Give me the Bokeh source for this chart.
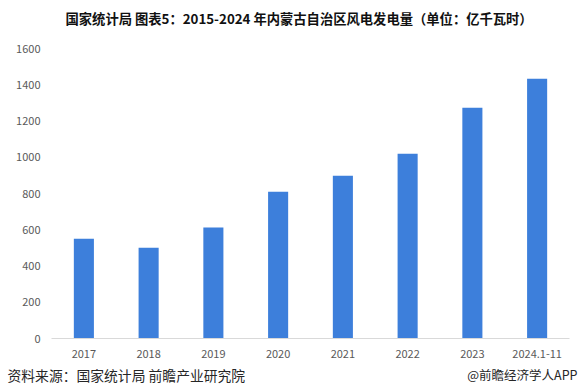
from bokeh.plotting import figure
from bokeh.layouts import column
from bokeh.models import ColumnDataSource, Range1d, FixedTicker
from bokeh.core.properties import value
from bokeh.embed import file_html
from bokeh.resources import INLINE

categories = ["2017", "2018", "2019", "2020", "2021", "2022", "2023", "2024.1-11"]
values = [551, 501, 612, 810, 898, 1019, 1273, 1433]
y_ticks = [0, 200, 400, 600, 800, 1000, 1200, 1400, 1600]

title_text = "国家统计局  图表5：2015-2024 年内蒙古自治区风电发电量（单位：亿千瓦时）"
source_text = "资料来源：国家统计局 前瞻产业研究院"
brand_text = "@前瞻经济学人APP"

W = 581
HEAD_H, MAIN_H, FOOT_H = 36, 328, 22
FONT = "Noto Sans CJK SC"


def text_strip(h):
    f = figure(width=W, height=h, output_backend="svg", toolbar_location=None,
               x_range=Range1d(0, W), y_range=Range1d(0, h),
               x_axis_location=None, y_axis_location=None,
               min_border=0, min_border_left=0, min_border_right=0,
               min_border_top=0, min_border_bottom=0)
    f.xgrid.grid_line_color = None
    f.ygrid.grid_line_color = None
    f.outline_line_color = None
    return f


# header with the title
head = text_strip(HEAD_H)
head.text(x=[65], y=[HEAD_H - 18], text=[title_text], text_align="left",
          text_baseline="middle", text_font=value(FONT), text_font_style="bold",
          text_font_size="13.3px", text_color="#111111")

# main chart
p = figure(x_range=categories, width=W, height=MAIN_H, output_backend="svg",
           toolbar_location=None, min_border_left=51, min_border_right=12,
           min_border_top=12, min_border_bottom=26)
p.y_range = Range1d(0, 1600)

src = ColumnDataSource(dict(cat=categories, val=values))
p.vbar(x="cat", top="val", width=0.31, source=src, color="#3d7fdb", line_color=None)

p.xgrid.grid_line_color = None
p.ygrid.grid_line_color = None
p.outline_line_color = None

p.yaxis.ticker = FixedTicker(ticks=y_ticks)
p.yaxis.axis_line_color = None
p.yaxis.major_tick_line_color = None
p.yaxis.minor_tick_line_color = None
p.yaxis.major_label_text_font = FONT
p.yaxis.major_label_text_font_size = "11px"
p.yaxis.major_label_text_color = "#595959"
p.yaxis.major_label_standoff = 5

p.xaxis.axis_line_color = "#d9d9d9"
p.xaxis.major_tick_line_color = None
p.xaxis.minor_tick_line_color = None
p.xaxis.major_label_text_font = FONT
p.xaxis.major_label_text_font_size = "11px"
p.xaxis.major_label_text_color = "#595959"
p.xaxis.major_label_standoff = 5

# footer
foot = text_strip(FOOT_H)
foot.text(x=[7], y=[FOOT_H - 10], text=[source_text], text_align="left",
          text_baseline="middle", text_font=value(FONT), text_font_size="13.8px",
          text_color="#262626")
foot.text(x=[577], y=[FOOT_H - 10], text=[brand_text], text_align="right",
          text_baseline="middle", text_font=value(FONT), text_font_size="12.5px",
          text_color="#262626")

# wrap the text strips in their own columns so their frames are not aligned to the chart's
layout = column(column(head, spacing=0), p, column(foot, spacing=0), spacing=0)
open("out.html", "w").write(file_html(layout, INLINE))
